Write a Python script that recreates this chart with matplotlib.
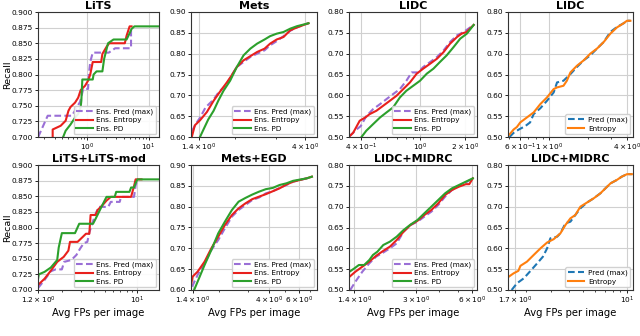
import numpy as np
import matplotlib
matplotlib.use("Agg")
import matplotlib.pyplot as plt
from matplotlib.ticker import FixedLocator, FixedFormatter, NullFormatter, LogLocator

plt.rcParams['font.family'] = ['DejaVu Sans']

# ---------------- data ----------------
# Panel 1: LiTS
lits_pred_x = [0.161, 0.23, 0.57, 0.77, 0.87, 1.04, 1.07, 1.13, 1.24, 2.26, 2.87, 5.2, 5.2]
lits_pred_y = [0.700, 0.734, 0.734, 0.756, 0.777, 0.777, 0.800, 0.820, 0.835, 0.835, 0.842, 0.842, 0.877]
lits_ent_x = [0.277, 0.277, 0.374, 0.45, 0.50, 0.54, 0.64, 0.72, 0.79, 0.93, 1.04, 1.13, 1.24, 1.70,
              1.78, 2.1, 2.3, 4.12, 4.4, 4.93, 5.3]
lits_ent_y = [0.700, 0.712, 0.718, 0.726, 0.742, 0.748, 0.755, 0.763, 0.775, 0.782, 0.790, 0.800, 0.820,
              0.820, 0.833, 0.845, 0.850, 0.850, 0.862, 0.877, 0.877]
lits_pd_x = [0.41, 0.45, 0.54, 0.64, 0.72, 0.79, 0.81, 0.84, 1.24, 1.28, 1.43, 1.78, 1.9, 2.2, 2.7,
             4.4, 4.93, 5.3, 5.9, 14.8]
lits_pd_y = [0.700, 0.710, 0.720, 0.731, 0.737, 0.748, 0.758, 0.792, 0.792, 0.800, 0.805, 0.805, 0.825,
             0.850, 0.856, 0.856, 0.866, 0.873, 0.877, 0.877]

# Panel 2: Mets
mets_pred_x = [1.31, 1.377, 1.423, 1.50, 1.624, 1.704, 1.849, 1.94, 2.04, 2.18, 2.33, 2.49, 2.68, 2.83,
               3.02, 3.23, 3.45, 3.69, 3.94, 4.13]
mets_pred_y = [0.614, 0.635, 0.647, 0.671, 0.690, 0.707, 0.727, 0.748, 0.768, 0.780, 0.792, 0.800, 0.808,
               0.820, 0.830, 0.842, 0.855, 0.863, 0.869, 0.873]
mets_ent_x = [1.31, 1.35, 1.42, 1.52, 1.624, 1.72, 1.85, 1.94, 2.04, 2.18, 2.33, 2.49, 2.68, 2.83, 3.02,
              3.23, 3.45, 3.69, 3.94, 4.13]
mets_ent_y = [0.600, 0.628, 0.640, 0.660, 0.687, 0.707, 0.731, 0.748, 0.768, 0.784, 0.794, 0.804, 0.812,
              0.824, 0.834, 0.840, 0.856, 0.863, 0.869, 0.873]
mets_pd_x = [1.42, 1.47, 1.54, 1.624, 1.70, 1.79, 1.91, 2.04, 2.18, 2.33, 2.49, 2.68, 2.83, 3.02, 3.23,
             3.45, 3.69, 3.94, 4.13]
mets_pd_y = [0.600, 0.618, 0.642, 0.663, 0.687, 0.711, 0.735, 0.768, 0.796, 0.812, 0.824, 0.834, 0.842,
             0.848, 0.852, 0.860, 0.866, 0.870, 0.873]

# Panel 3: LIDC (ensembles)
lidc_pred_x = [0.337, 0.375, 0.40, 0.436, 0.485, 0.54, 0.596, 0.66, 0.733, 0.81, 0.879, 0.97, 1.05,
               1.17, 1.30, 1.44, 1.59, 1.77, 1.96, 2.29]
lidc_pred_y = [0.502, 0.518, 0.526, 0.550, 0.567, 0.579, 0.591, 0.603, 0.615, 0.635, 0.655, 0.655, 0.668,
               0.680, 0.692, 0.708, 0.728, 0.744, 0.752, 0.769]
lidc_ent_x = [0.337, 0.356, 0.394, 0.43, 0.46, 0.51, 0.566, 0.628, 0.696, 0.772, 0.856, 0.95, 1.05, 1.17,
              1.30, 1.44, 1.59, 1.77, 1.90, 2.05, 2.29]
lidc_ent_y = [0.502, 0.510, 0.539, 0.547, 0.555, 0.563, 0.575, 0.587, 0.599, 0.615, 0.631, 0.652, 0.664,
              0.676, 0.688, 0.704, 0.724, 0.740, 0.748, 0.752, 0.769]
lidc_pd_x = [0.405, 0.436, 0.485, 0.54, 0.596, 0.66, 0.733, 0.81, 0.90, 1.00, 1.11, 1.23, 1.36, 1.51,
             1.68, 1.86, 2.06, 2.29]
lidc_pd_y = [0.500, 0.515, 0.531, 0.547, 0.559, 0.571, 0.595, 0.611, 0.623, 0.635, 0.652, 0.664, 0.680,
             0.696, 0.716, 0.736, 0.748, 0.769]

# Panel 4: LIDC (single model)
lidc1_pred_x = [0.50, 0.538, 0.59, 0.66, 0.72, 0.767, 0.863, 0.971, 1.093, 1.16, 1.30, 1.47, 1.65, 1.86,
                2.09, 2.35, 2.65, 2.98, 3.35, 3.77, 4.0, 4.25]
lidc1_pred_y = [0.500, 0.510, 0.518, 0.526, 0.535, 0.555, 0.569, 0.587, 0.607, 0.631, 0.635, 0.651, 0.668,
                0.684, 0.696, 0.712, 0.728, 0.752, 0.764, 0.773, 0.779, 0.779]
lidc1_ent_x = [0.50, 0.538, 0.57, 0.605, 0.681, 0.767, 0.863, 0.971, 1.093, 1.16, 1.30, 1.38, 1.47, 1.65,
               1.86, 2.09, 2.35, 2.65, 2.98, 3.35, 3.77, 4.0, 4.25]
lidc1_ent_y = [0.506, 0.518, 0.524, 0.535, 0.547, 0.559, 0.579, 0.595, 0.615, 0.619, 0.623, 0.635, 0.655,
               0.671, 0.684, 0.700, 0.712, 0.728, 0.748, 0.763, 0.773, 0.779, 0.779]

# Panel 5: LiTS+LiTS-mod
litsm_pred_x = [1.2, 1.38, 1.58, 1.75, 2.0, 2.1, 2.45, 2.73, 2.95, 3.2, 3.45, 3.6, 3.88, 4.12, 4.4, 5.4,
                5.7, 6.9, 7.1, 9.37, 9.7, 10.1]
litsm_pred_y = [0.703, 0.716, 0.730, 0.733, 0.733, 0.745, 0.748, 0.756, 0.766, 0.775, 0.777, 0.792, 0.809,
                0.822, 0.833, 0.833, 0.841, 0.841, 0.849, 0.849, 0.867, 0.877]
litsm_ent_x = [1.2, 1.38, 1.58, 1.81, 2.08, 2.3, 2.38, 2.8, 3.13, 3.35, 3.6, 3.7, 4.12, 4.3, 4.73, 5.2,
               5.7, 8.8, 9.4, 9.7, 11.0]
litsm_ent_y = [0.708, 0.718, 0.731, 0.745, 0.753, 0.763, 0.777, 0.777, 0.785, 0.790, 0.790, 0.820, 0.820,
               0.828, 0.835, 0.843, 0.849, 0.849, 0.867, 0.877, 0.877]
litsm_pd_x = [1.2, 1.22, 1.38, 1.58, 1.81, 1.87, 2.0, 2.65, 2.9, 3.9, 4.12, 4.73, 5.2, 6.2, 6.4, 8.5, 8.8,
              9.37, 9.7, 10.1, 16.0]
litsm_pd_y = [0.7175, 0.725, 0.729, 0.736, 0.748, 0.768, 0.791, 0.791, 0.806, 0.806, 0.814, 0.835, 0.849,
              0.849, 0.857, 0.857, 0.864, 0.864, 0.871, 0.877, 0.877]

# Panel 6: Mets+EGD
egd_pred_x = [1.39, 1.50, 1.65, 1.81, 1.99, 2.18, 2.40, 2.63, 2.89, 3.17, 3.48, 3.82, 4.20, 4.61, 5.06,
              5.55, 6.09, 6.69, 7.18]
egd_pred_y = [0.608, 0.636, 0.664, 0.696, 0.720, 0.748, 0.776, 0.792, 0.804, 0.816, 0.822, 0.832, 0.837,
              0.845, 0.852, 0.860, 0.864, 0.868, 0.872]
egd_ent_x = [1.37, 1.40, 1.50, 1.65, 1.81, 1.99, 2.18, 2.40, 2.63, 2.89, 3.17, 3.48, 3.82, 4.20, 4.61,
             5.06, 5.55, 6.09, 6.69, 7.18]
egd_ent_y = [0.612, 0.632, 0.644, 0.668, 0.700, 0.728, 0.756, 0.780, 0.796, 0.808, 0.818, 0.824, 0.830,
             0.837, 0.844, 0.853, 0.860, 0.864, 0.868, 0.872]
egd_pd_x = [1.43, 1.50, 1.65, 1.81, 1.99, 2.18, 2.40, 2.63, 2.89, 3.17, 3.48, 3.82, 4.20, 4.61, 5.06,
            5.55, 6.09, 6.69, 7.18]
egd_pd_y = [0.600, 0.620, 0.660, 0.696, 0.736, 0.764, 0.792, 0.812, 0.821, 0.829, 0.836, 0.842, 0.845,
            0.852, 0.856, 0.862, 0.865, 0.868, 0.872]

# Panel 7: LIDC+MIDRC (ensembles)
midrc_pred_x = [1.33, 1.418, 1.545, 1.683, 1.83, 2.00, 2.17, 2.36, 2.57, 2.80, 3.05, 3.32, 3.62, 3.94,
                4.29, 4.67, 5.09, 5.54, 6.04]
midrc_pred_y = [0.500, 0.520, 0.544, 0.564, 0.580, 0.590, 0.600, 0.612, 0.640, 0.656, 0.664, 0.676, 0.688,
                0.704, 0.724, 0.740, 0.750, 0.758, 0.768]
midrc_ent_x = [1.32, 1.418, 1.545, 1.683, 1.83, 2.00, 2.17, 2.36, 2.57, 2.80, 3.05, 3.32, 3.62, 3.94,
               4.29, 4.67, 5.09, 5.54, 5.78, 6.04]
midrc_ent_y = [0.532, 0.544, 0.556, 0.568, 0.582, 0.594, 0.604, 0.620, 0.640, 0.656, 0.666, 0.680, 0.692,
               0.708, 0.728, 0.740, 0.748, 0.754, 0.754, 0.768]
midrc_pd_x = [1.32, 1.40, 1.48, 1.58, 1.683, 1.76, 1.86, 2.00, 2.17, 2.36, 2.57, 2.80, 3.05, 3.32, 3.62,
              3.94, 4.29, 4.67, 5.09, 5.54, 6.04]
midrc_pd_y = [0.544, 0.552, 0.560, 0.560, 0.572, 0.584, 0.592, 0.608, 0.616, 0.628, 0.644, 0.657, 0.668,
              0.684, 0.700, 0.716, 0.732, 0.744, 0.752, 0.760, 0.768]

# Panel 8: LIDC+MIDRC (single model)
midrc1_pred_x = [1.60, 1.74, 1.94, 2.16, 2.40, 2.63, 2.81, 2.96, 3.12, 3.30, 3.47, 3.76, 4.07, 4.40, 4.77,
                 5.30, 5.89, 6.55, 7.10, 7.70, 8.50, 9.20, 10.0, 10.8]
midrc1_pred_y = [0.500, 0.516, 0.528, 0.546, 0.564, 0.580, 0.600, 0.624, 0.626, 0.628, 0.636, 0.660, 0.664,
                 0.680, 0.696, 0.710, 0.720, 0.732, 0.744, 0.756, 0.764, 0.772, 0.778, 0.778]
midrc1_ent_x = [1.53, 1.65, 1.78, 1.84, 2.04, 2.27, 2.53, 2.81, 3.12, 3.47, 3.76, 4.07, 4.40, 4.77, 5.30,
                5.89, 6.55, 7.10, 7.70, 8.50, 9.20, 10.0, 10.8]
midrc1_ent_y = [0.532, 0.540, 0.546, 0.558, 0.568, 0.584, 0.600, 0.614, 0.622, 0.636, 0.656, 0.672, 0.680,
                0.700, 0.710, 0.720, 0.732, 0.744, 0.756, 0.764, 0.772, 0.778, 0.778]

titles = ["LiTS", "Mets", "LIDC", "LIDC", "LiTS+LiTS-mod", "Mets+EGD", "LIDC+MIDRC", "LIDC+MIDRC"]
ens_labels = ["Ens. Pred (max)", "Ens. Entropy", "Ens. PD"]
single_labels = ["Pred (max)", "Entropy"]

xlims = [(0.16, 14.8), (1.30, 4.49), (0.334, 2.41), (0.487, 4.45),
         (1.2, 16.0), (1.37, 7.7), (1.31, 6.36), (1.51, 11.0)]
xticks = [[1, 10], [1.4, 4], [0.4, 1, 2], [0.6, 1, 4],
          [1.2, 10], [1.4, 4, 6], [1.4, 3, 6], [1.7, 10]]
xticklabels = [[r"$10^{0}$", r"$10^{1}$"],
               [r"$1.4\times10^{0}$", r"$4\times10^{0}$"],
               [r"$4\times10^{-1}$", r"$10^{0}$", r"$2\times10^{0}$"],
               [r"$6\times10^{-1}$", r"$1\times10^{0}$", r"$4\times10^{0}$"],
               [r"$1.2\times10^{0}$", r"$10^{1}$"],
               [r"$1.4\times10^{0}$", r"$4\times10^{0}$", r"$6\times10^{0}$"],
               [r"$1.4\times10^{0}$", r"$3\times10^{0}$", r"$6\times10^{0}$"],
               [r"$1.7\times10^{0}$", r"$10^{1}$"]]
ylims = [(0.70, 0.90), (0.60, 0.90), (0.50, 0.80), (0.50, 0.80),
         (0.70, 0.90), (0.60, 0.90), (0.50, 0.80), (0.50, 0.80)]
ysteps = [0.025, 0.05, 0.05, 0.05, 0.025, 0.05, 0.05, 0.05]
yfmt = ["%.3f", "%.2f", "%.2f", "%.2f", "%.3f", "%.2f", "%.2f", "%.2f"]

series = [
    [(lits_pred_x, lits_pred_y), (lits_ent_x, lits_ent_y), (lits_pd_x, lits_pd_y)],
    [(mets_pred_x, mets_pred_y), (mets_ent_x, mets_ent_y), (mets_pd_x, mets_pd_y)],
    [(lidc_pred_x, lidc_pred_y), (lidc_ent_x, lidc_ent_y), (lidc_pd_x, lidc_pd_y)],
    [(lidc1_pred_x, lidc1_pred_y), (lidc1_ent_x, lidc1_ent_y)],
    [(litsm_pred_x, litsm_pred_y), (litsm_ent_x, litsm_ent_y), (litsm_pd_x, litsm_pd_y)],
    [(egd_pred_x, egd_pred_y), (egd_ent_x, egd_ent_y), (egd_pd_x, egd_pd_y)],
    [(midrc_pred_x, midrc_pred_y), (midrc_ent_x, midrc_ent_y), (midrc_pd_x, midrc_pd_y)],
    [(midrc1_pred_x, midrc1_pred_y), (midrc1_ent_x, midrc1_ent_y)],
]

ens_styles = [dict(color="#9a6fd6", ls=(0, (3.2, 1.6))), dict(color="#e8201c", ls="-"),
              dict(color="#2ca02c", ls="-")]
single_styles = [dict(color="#1f77b4", ls=(0, (3.2, 1.6))), dict(color="#ff7f0e", ls="-")]

# ---------------- figure ----------------
W, H = 640, 336
fig = plt.figure(figsize=(W / 100, H / 100), dpi=100)
col_left = [38, 191, 349, 508]
col_w = [121, 126, 128, 125]
row_top = [12, 165]
row_h = 125

for i in range(8):
    r, c = divmod(i, 4)
    ax = fig.add_axes([col_left[c] / W, 1 - (row_top[r] + row_h) / H, col_w[c] / W, row_h / H])
    ax.set_xscale("log")
    single = (c == 3)
    styles = single_styles if single else ens_styles
    labels = single_labels if single else ens_labels
    for (xs, ys), st, lab in zip(series[i], styles, labels):
        ax.plot(xs, ys, lw=1.5, label=lab, **st)
    ax.set_xlim(*xlims[i])
    ax.set_ylim(*ylims[i])
    ax.xaxis.set_major_locator(FixedLocator(xticks[i]))
    ax.xaxis.set_major_formatter(FixedFormatter(xticklabels[i]))
    ax.xaxis.set_minor_locator(LogLocator(base=10, subs=np.arange(2, 10)))
    ax.xaxis.set_minor_formatter(NullFormatter())
    lo, hi = ylims[i]
    yt = np.arange(lo, hi + 1e-9, ysteps[i])
    ax.set_yticks(yt)
    ax.set_yticklabels([yfmt[i] % v for v in yt])
    ax.tick_params(axis="both", which="major", labelsize=5.3, length=2.5, width=0.6, pad=1.2)
    ax.tick_params(axis="both", which="minor", length=1.5, width=0.5)
    ax.grid(True, which="major", color="#d0d0d0", lw=0.8)
    ax.set_axisbelow(True)
    for sp in ax.spines.values():
        sp.set_color("#333333")
        sp.set_linewidth(0.8)
    ax.set_title(titles[i], fontsize=8, fontweight="bold", pad=2)
    ax.legend(loc="lower right", fontsize=5.2, handlelength=2.3, borderaxespad=0.4,
              labelspacing=0.3, borderpad=0.35, handletextpad=0.5, framealpha=0.9)
    if c == 0:
        ax.set_ylabel("Recall", fontsize=6.8)
        ax.yaxis.set_label_coords((12 - col_left[c]) / col_w[c], 0.5)
    if r == 1:
        ax.set_xlabel("Avg FPs per image", fontsize=7.2, labelpad=1)

fig.savefig("out.png", dpi=100)
